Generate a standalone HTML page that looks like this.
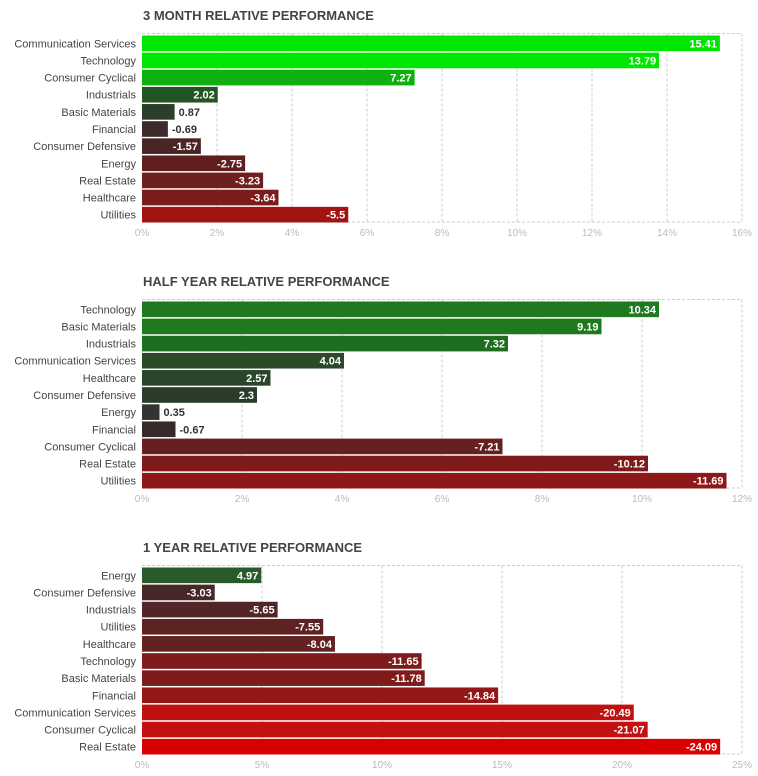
<!DOCTYPE html>
<html><head><meta charset="utf-8"><style>
body{margin:0;background:#fff;}
svg{display:block;font-family:"Liberation Sans",sans-serif;}
</style></head><body>
<svg id="c" width="758" height="776" xmlns="http://www.w3.org/2000/svg"></svg>
<script>
const titles=["3 MONTH RELATIVE PERFORMANCE","HALF YEAR RELATIVE PERFORMANCE","1 YEAR RELATIVE PERFORMANCE"];
const cats1=["Communication Services","Technology","Consumer Cyclical","Industrials","Basic Materials","Financial","Consumer Defensive","Energy","Real Estate","Healthcare","Utilities"];
const vals1=[15.41,13.79,7.27,2.02,0.87,-0.69,-1.57,-2.75,-3.23,-3.64,-5.5];
const cats2=["Technology","Basic Materials","Industrials","Communication Services","Healthcare","Consumer Defensive","Energy","Financial","Consumer Cyclical","Real Estate","Utilities"];
const vals2=[10.34,9.19,7.32,4.04,2.57,2.3,0.35,-0.67,-7.21,-10.12,-11.69];
const cats3=["Energy","Consumer Defensive","Industrials","Utilities","Healthcare","Technology","Basic Materials","Financial","Communication Services","Consumer Cyclical","Real Estate"];
const vals3=[4.97,-3.03,-5.65,-7.55,-8.04,-11.65,-11.78,-14.84,-20.49,-21.07,-24.09];
const ticks1=[0,2,4,6,8,10,12,14,16];
const ticks2=[0,2,4,6,8,10,12];
const ticks3=[0,5,10,15,20,25];
const colors1=["#00e600","#00e600","#10b010","#245324","#2c3d2c","#3d2a2a","#4a2525","#601f1f","#6e1f1f","#7a1c1c","#a01414"];
const colors2=["#1f7a1f","#1f7a1f","#1f6e1f","#2a4a2a","#2a452a","#2a3d2a","#333333","#362a2a","#662020","#7e1a1a","#8e1818"];
const colors3=["#2a5a2a","#462828","#522626","#5e2222","#622222","#7e1c1c","#7e1c1c","#921818","#c01010","#c41010","#d80000"];
const NS="http://www.w3.org/2000/svg";
const svg=document.getElementById('c');
function mk(tag,attrs,parent){const e=document.createElementNS(NS,tag);for(const k in attrs)e.setAttribute(k,attrs[k]);(parent||svg).appendChild(e);return e;}
const charts=[[cats1,vals1,ticks1,colors1],[cats2,vals2,ticks2,colors2],[cats3,vals3,ticks3,colors3]];
charts.forEach((ch,ci)=>{
  const [cats,vals,ticks,cols]=ch;
  const off=ci*266;
  const L=142,R=742,T=33.5+off,B=222+off;
  const maxT=ticks[ticks.length-1];
  const x=v=>L+(R-L)*v/maxT;
  const g=mk('g',{});
  
  
  const tt=mk('text',{x:143,y:20+off,'font-size':13,'font-weight':'bold',fill:'#444'},g);
  tt.textContent=titles[ci];
  
  
  ticks.forEach((t,i)=>{
    if(i>0){const ln=mk('line',{x1:x(t),x2:x(t),y1:T,y2:B,stroke:'#ccc','stroke-dasharray':'3,2'},g);
      
      }
    const tl=mk('text',{x:x(t),y:B+14,'font-size':10,fill:'#bbb','text-anchor':'middle'},g);
    tl.textContent=t+'%';
    
    
  });
  mk('line',{x1:L,x2:R,y1:T,y2:T,stroke:'#ccc','stroke-dasharray':'3,2'},g);
  mk('line',{x1:L,x2:R,y1:B,y2:B,stroke:'#ccc','stroke-dasharray':'3,2'},g);
  const step=(B-T)/cats.length;
  cats.forEach((c,i)=>{
    const v=vals[i];
    const y0=T+i*step+2;
    const h=step-1.5;
    const w=x(Math.abs(v))-L;
    const r=mk('rect',{x:L,y:y0,width:w,height:h,fill:cols[i]||'#333'},g);
    
    
    const cl=mk('text',{x:136,y:y0+h/2+4,'font-size':11,fill:'#444','text-anchor':'end'},g);
    cl.textContent=c;
    
    
    const txt=String(v);
    const inside=w>40;
    const vl=mk('text',{x:inside?L+w-3:L+w+4,y:y0+h/2+4,'font-size':11,'font-weight':'bold',fill:inside?'#fff':'#333','text-anchor':inside?'end':'start'},g);
    vl.textContent=txt;
    
    
  });
});
</script>
</body></html>
